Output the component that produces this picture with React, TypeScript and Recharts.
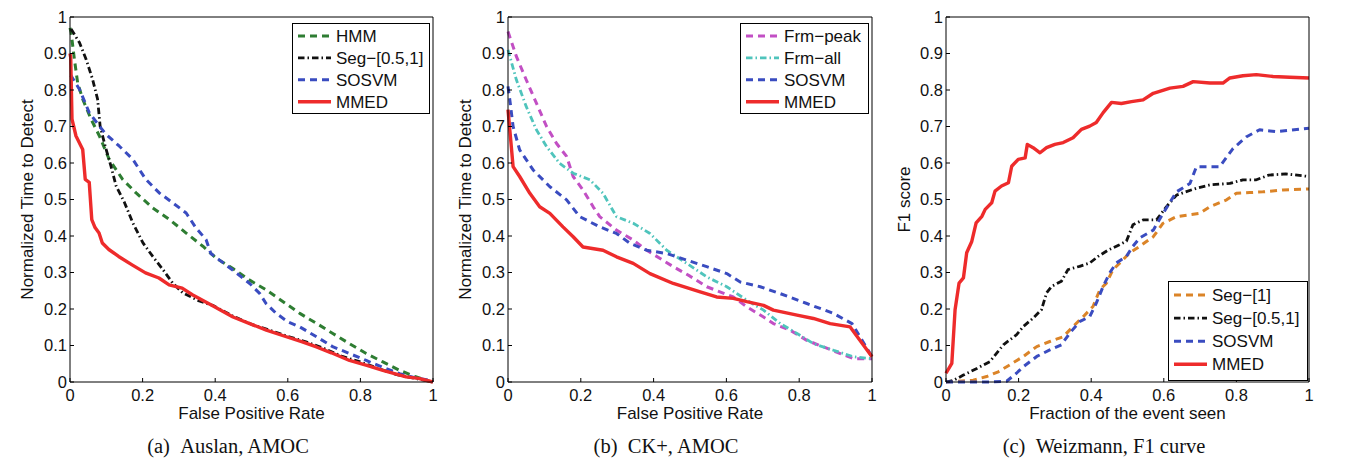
import { Legend, Line, LineChart, XAxis, YAxis } from "recharts";

type Pt = [number, number];

const xTicks = [0, 0.2, 0.4, 0.6, 0.8, 1];
const yTicks = [0, 0.1, 0.2, 0.3, 0.4, 0.5, 0.6, 0.7, 0.8, 0.9, 1];

// (a) Auslan, AMOC
const auslanHmm: Pt[] = [
  [0, 0.97], [0.003, 0.958], [0.012, 0.885], [0.021, 0.82], [0.035, 0.775],
  [0.058, 0.72], [0.081, 0.674], [0.108, 0.61], [0.145, 0.555], [0.182, 0.518],
  [0.228, 0.477], [0.274, 0.445], [0.32, 0.408], [0.366, 0.372], [0.403, 0.339],
  [0.45, 0.31], [0.495, 0.279], [0.541, 0.252], [0.587, 0.22], [0.633, 0.188],
  [0.68, 0.16], [0.724, 0.133], [0.77, 0.105], [0.816, 0.078], [0.862, 0.055],
  [0.908, 0.032], [0.95, 0.015], [0.99, 0.002], [1, 0],
];
const auslanSeg: Pt[] = [
  [0.003, 0.967], [0.026, 0.93], [0.044, 0.885], [0.062, 0.83], [0.076, 0.775],
  [0.083, 0.701], [0.097, 0.646], [0.113, 0.591], [0.127, 0.537], [0.15, 0.492],
  [0.173, 0.436], [0.201, 0.381], [0.228, 0.344], [0.256, 0.308], [0.283, 0.271],
  [0.311, 0.244], [0.356, 0.222], [0.393, 0.21], [0.45, 0.18], [0.5, 0.158],
  [0.55, 0.142], [0.6, 0.125], [0.65, 0.11], [0.7, 0.092], [0.75, 0.07],
  [0.8, 0.055], [0.85, 0.037], [0.9, 0.02], [0.95, 0.01], [1, 0],
];
const auslanSosvm: Pt[] = [
  [0, 0.84], [0.003, 0.839], [0.026, 0.802], [0.053, 0.738], [0.081, 0.701],
  [0.099, 0.679], [0.136, 0.646], [0.173, 0.61], [0.209, 0.555], [0.246, 0.518],
  [0.283, 0.491], [0.32, 0.463], [0.347, 0.422], [0.375, 0.39], [0.388, 0.352],
  [0.412, 0.334], [0.449, 0.306], [0.495, 0.27], [0.523, 0.242], [0.54, 0.215],
  [0.568, 0.188], [0.6, 0.165], [0.633, 0.151], [0.679, 0.124], [0.725, 0.096],
  [0.77, 0.078], [0.816, 0.059], [0.862, 0.04], [0.908, 0.023], [0.95, 0.012],
  [0.99, 0.005], [1, 0],
];
const auslanMmed: Pt[] = [
  [0, 0.9], [0.002, 0.889], [0.0055, 0.72], [0.0165, 0.674], [0.035, 0.637],
  [0.042, 0.555], [0.053, 0.547], [0.06, 0.445], [0.069, 0.423], [0.08, 0.408],
  [0.089, 0.381], [0.107, 0.363], [0.134, 0.344], [0.171, 0.321], [0.208, 0.299],
  [0.245, 0.285], [0.273, 0.266], [0.309, 0.257], [0.337, 0.239], [0.393, 0.209],
  [0.449, 0.178], [0.495, 0.16], [0.541, 0.142], [0.596, 0.124], [0.64, 0.11],
  [0.679, 0.096], [0.72, 0.08], [0.77, 0.059], [0.82, 0.045], [0.862, 0.032],
  [0.926, 0.014], [0.96, 0.01], [1, 0],
];

// (b) CK+, AMOC
const ckPeak: Pt[] = [
  [0, 0.96], [0.023, 0.892], [0.05, 0.828], [0.078, 0.764], [0.106, 0.7],
  [0.133, 0.654], [0.161, 0.618], [0.179, 0.563], [0.206, 0.526], [0.234, 0.48],
  [0.252, 0.453], [0.298, 0.416], [0.344, 0.389], [0.381, 0.361], [0.454, 0.316],
  [0.5, 0.29], [0.546, 0.261], [0.619, 0.233], [0.656, 0.206], [0.702, 0.178],
  [0.729, 0.16], [0.775, 0.142], [0.821, 0.114], [0.867, 0.096], [0.913, 0.078],
  [0.95, 0.064], [1, 0.064],
];
const ckAll: Pt[] = [
  [0, 0.91], [0.023, 0.828], [0.05, 0.755], [0.078, 0.691], [0.106, 0.645],
  [0.142, 0.599], [0.179, 0.572], [0.225, 0.554], [0.261, 0.517], [0.298, 0.453],
  [0.344, 0.435], [0.39, 0.407], [0.436, 0.361], [0.491, 0.325], [0.546, 0.288],
  [0.601, 0.261], [0.656, 0.224], [0.702, 0.197], [0.748, 0.16], [0.794, 0.133],
  [0.839, 0.105], [0.894, 0.087], [0.95, 0.069], [1, 0.064],
];
const ckSosvm: Pt[] = [
  [0, 0.81], [0.005, 0.773], [0.014, 0.7], [0.032, 0.636], [0.069, 0.581],
  [0.115, 0.535], [0.161, 0.499], [0.197, 0.453], [0.252, 0.425], [0.298, 0.407],
  [0.335, 0.38], [0.381, 0.361], [0.436, 0.352], [0.491, 0.334], [0.546, 0.316],
  [0.601, 0.297], [0.638, 0.274], [0.693, 0.261], [0.748, 0.242], [0.821, 0.215],
  [0.894, 0.188], [0.945, 0.16], [1, 0.069],
];
const ckMmed: Pt[] = [
  [0, 0.746], [0.014, 0.59], [0.032, 0.563], [0.06, 0.517], [0.087, 0.48],
  [0.115, 0.462], [0.151, 0.425], [0.179, 0.398], [0.206, 0.37], [0.261, 0.361],
  [0.298, 0.343], [0.344, 0.325], [0.39, 0.297], [0.454, 0.27], [0.528, 0.247],
  [0.573, 0.233], [0.619, 0.229], [0.656, 0.22], [0.702, 0.21], [0.729, 0.197],
  [0.794, 0.183], [0.839, 0.174], [0.885, 0.16], [0.94, 0.151], [1, 0.069],
];

// (c) Weizmann, F1 curve
const weizSeg1: Pt[] = [
  [0, 0], [0.075, 0.005], [0.112, 0.015], [0.144, 0.028], [0.176, 0.047],
  [0.213, 0.07], [0.25, 0.097], [0.286, 0.111], [0.323, 0.124], [0.35, 0.152],
  [0.378, 0.179], [0.405, 0.207], [0.424, 0.253], [0.442, 0.271], [0.46, 0.308],
  [0.483, 0.33], [0.506, 0.354], [0.534, 0.372], [0.571, 0.398], [0.598, 0.435],
  [0.635, 0.453], [0.699, 0.462], [0.727, 0.48], [0.773, 0.499], [0.8, 0.517],
  [0.837, 0.519], [0.873, 0.521], [0.928, 0.526], [1, 0.529],
];
const weizSeg: Pt[] = [
  [0, 0], [0.02, 0.004], [0.048, 0.019], [0.085, 0.037], [0.121, 0.056],
  [0.158, 0.102], [0.194, 0.129], [0.213, 0.152], [0.24, 0.175], [0.263, 0.198],
  [0.277, 0.244], [0.291, 0.262], [0.318, 0.276], [0.336, 0.308], [0.368, 0.317],
  [0.396, 0.326], [0.419, 0.344], [0.446, 0.361], [0.478, 0.376], [0.497, 0.386],
  [0.515, 0.431], [0.543, 0.444], [0.58, 0.444], [0.607, 0.48], [0.635, 0.512],
  [0.69, 0.531], [0.727, 0.54], [0.782, 0.544], [0.818, 0.554], [0.855, 0.554],
  [0.89, 0.567], [0.936, 0.57], [1, 0.563],
];
const weizSosvm: Pt[] = [
  [0, 0], [0.121, 0], [0.167, 0.002], [0.194, 0.024], [0.213, 0.042],
  [0.25, 0.07], [0.286, 0.088], [0.318, 0.102], [0.341, 0.134], [0.369, 0.166],
  [0.396, 0.179], [0.414, 0.216], [0.433, 0.262], [0.451, 0.299], [0.469, 0.326],
  [0.497, 0.344], [0.515, 0.372], [0.534, 0.395], [0.571, 0.416], [0.598, 0.462],
  [0.635, 0.521], [0.672, 0.544], [0.69, 0.59], [0.754, 0.59], [0.791, 0.64],
  [0.828, 0.672], [0.864, 0.691], [0.91, 0.686], [1, 0.695],
];
const weizMmed: Pt[] = [
  [0, 0.024], [0.016, 0.051], [0.025, 0.198], [0.036, 0.271], [0.048, 0.285],
  [0.057, 0.354], [0.071, 0.385], [0.083, 0.436], [0.099, 0.454], [0.108, 0.473],
  [0.126, 0.491], [0.135, 0.523], [0.153, 0.537], [0.172, 0.546], [0.181, 0.591],
  [0.199, 0.61], [0.218, 0.614], [0.224, 0.651], [0.24, 0.642], [0.259, 0.628],
  [0.277, 0.642], [0.3, 0.651], [0.323, 0.656], [0.35, 0.669], [0.373, 0.692],
  [0.396, 0.701], [0.414, 0.711], [0.433, 0.738], [0.456, 0.766], [0.483, 0.763],
  [0.511, 0.768], [0.543, 0.773], [0.571, 0.791], [0.617, 0.805], [0.653, 0.81],
  [0.681, 0.823], [0.727, 0.819], [0.763, 0.819], [0.782, 0.833], [0.818, 0.839],
  [0.855, 0.842], [0.901, 0.837], [0.947, 0.835], [1, 0.833],
];

const SANS = '"Liberation Sans", Arial, Helvetica, sans-serif';
const SERIF = '"Liberation Serif", "Times New Roman", serif';

const DASH = "7 5";
const DASHDOT = "6.5 3 1.5 3";

type Series = {
  key: string;
  name: string;
  color: string;
  dash?: string;
  width: number;
  points: Pt[];
};

type LegendBox = {
  left: number;
  top: number;
  w: number;
  h: number;
  row0: number;
  rowGap: number;
};

type PanelProps = {
  left: number;
  yAxisWidth: number;
  marginRight: number;
  yLabel: string;
  yLabelOffset: number;
  xLabel: string;
  series: Series[];
  legend: LegendBox;
};

const toRows = (pts: Pt[]) => pts.map(([x, y]) => ({ x, y }));

function BoxLegend({ series, box }: { series: Series[]; box: LegendBox }) {
  return (
    <svg width={box.w} height={box.h} style={{ display: "block" }}>
      <rect x={0.5} y={0.5} width={box.w - 1} height={box.h - 1} fill="#fff" stroke="#000" />
      {series.map((s, i) => {
        const y = box.row0 + i * box.rowGap;
        return (
          <g key={s.key}>
            <line
              x1={6}
              x2={39}
              y1={y}
              y2={y}
              stroke={s.color}
              strokeWidth={s.width}
              strokeDasharray={s.dash}
            />
            <text x={44} y={y + 6} fontFamily={SANS} fontSize={17} fill="#111">
              {s.name}
            </text>
          </g>
        );
      })}
    </svg>
  );
}

function Panel(p: PanelProps) {
  const tickStyle = { fill: "#111", fontSize: 16.5, fontFamily: SANS };
  return (
    <div style={{ position: "absolute", left: p.left, top: 0 }}>
      <LineChart
        width={445}
        height={440}
        margin={{ top: 16, right: p.marginRight, bottom: 8, left: 0 }}
      >
        <XAxis
          dataKey="x"
          type="number"
          domain={[0, 1]}
          ticks={xTicks}
          interval={0}
          height={50}
          tickSize={-4}
          tickMargin={11}
          tick={tickStyle}
          axisLine={{ stroke: "#000" }}
          tickLine={{ stroke: "#000" }}
          tickFormatter={(v: number) => String(v)}
          label={{
            value: p.xLabel,
            position: "insideBottom",
            offset: 13,
            style: { fontSize: 17, fontFamily: SANS, fill: "#111" },
          }}
        />
        <XAxis
          xAxisId="top"
          orientation="top"
          dataKey="x"
          type="number"
          domain={[0, 1]}
          ticks={xTicks}
          interval={0}
          height={1}
          tickSize={-4}
          tick={false}
          axisLine={{ stroke: "#000" }}
          tickLine={{ stroke: "#000" }}
        />
        <YAxis
          type="number"
          domain={[0, 1]}
          ticks={yTicks}
          interval={0}
          width={p.yAxisWidth}
          tickSize={-4}
          tickMargin={7}
          tick={tickStyle}
          axisLine={{ stroke: "#000" }}
          tickLine={{ stroke: "#000" }}
          tickFormatter={(v: number) => String(v)}
          label={{
            value: p.yLabel,
            angle: -90,
            position: "insideLeft",
            offset: p.yLabelOffset,
            style: { fontSize: 17, fontFamily: SANS, fill: "#111", textAnchor: "middle" },
          }}
        />
        <YAxis
          yAxisId="right"
          orientation="right"
          type="number"
          domain={[0, 1]}
          ticks={yTicks}
          interval={0}
          width={1}
          tickSize={-4}
          tick={false}
          axisLine={{ stroke: "#000" }}
          tickLine={{ stroke: "#000" }}
        />
        {p.series.map((s) => (
          <Line
            key={s.key}
            data={toRows(s.points)}
            dataKey="y"
            name={s.name}
            type="linear"
            stroke={s.color}
            strokeWidth={s.width}
            strokeDasharray={s.dash}
            strokeLinejoin="round"
            dot={false}
            activeDot={false}
            isAnimationActive={false}
          />
        ))}
        <Legend
          layout="vertical"
          align="center"
          verticalAlign="middle"
          wrapperStyle={{
            left: p.legend.left,
            top: p.legend.top,
            width: p.legend.w,
            height: p.legend.h,
          }}
          content={() => <BoxLegend series={p.series} box={p.legend} />}
        />
      </LineChart>
    </div>
  );
}

const RED = "#EE2B2B";
const BLUE = "#3A4CC0";
const BLACK = "#111111";

const auslanSeries: Series[] = [
  { key: "hmm", name: "HMM", color: "#2E7D32", dash: DASH, width: 3, points: auslanHmm },
  { key: "seg", name: "Seg\u2212[0.5,1]", color: BLACK, dash: DASHDOT, width: 2.8, points: auslanSeg },
  { key: "sosvm", name: "SOSVM", color: BLUE, dash: DASH, width: 3, points: auslanSosvm },
  { key: "mmed", name: "MMED", color: RED, width: 3.4, points: auslanMmed },
];
const ckSeries: Series[] = [
  { key: "peak", name: "Frm\u2212peak", color: "#C24FC4", dash: DASH, width: 3, points: ckPeak },
  { key: "all", name: "Frm\u2212all", color: "#4FC4BC", dash: DASHDOT, width: 2.8, points: ckAll },
  { key: "sosvm", name: "SOSVM", color: BLUE, dash: DASH, width: 3, points: ckSosvm },
  { key: "mmed", name: "MMED", color: RED, width: 3.4, points: ckMmed },
];
const weizSeries: Series[] = [
  { key: "seg1", name: "Seg\u2212[1]", color: "#DB8428", dash: DASH, width: 3, points: weizSeg1 },
  { key: "seg", name: "Seg\u2212[0.5,1]", color: BLACK, dash: DASHDOT, width: 2.8, points: weizSeg },
  { key: "sosvm", name: "SOSVM", color: BLUE, dash: DASH, width: 3, points: weizSosvm },
  { key: "mmed", name: "MMED", color: RED, width: 3.4, points: weizMmed },
];

const captions = [
  { text: "(a)\u00a0\u00a0Auslan, AMOC", cx: 228 },
  { text: "(b)\u00a0\u00a0CK+, AMOC", cx: 666 },
  { text: "(c)\u00a0\u00a0Weizmann, F1 curve", cx: 1104 },
];

export default function App() {
  return (
    <div
      style={{
        position: "absolute",
        left: 0,
        top: 0,
        width: 1346,
        height: 463,
        background: "#fff",
        overflow: "hidden",
      }}
    >
      <Panel
        left={0}
        yAxisWidth={70}
        marginRight={11}
        yLabel="Normalized Time to Detect"
        yLabelOffset={27}
        xLabel="False Positive Rate"
        series={auslanSeries}
        legend={{ left: 292, top: 23, w: 138, h: 91, row0: 13, rowGap: 21.9 }}
      />
      <Panel
        left={440}
        yAxisWidth={68}
        marginRight={12}
        yLabel="Normalized Time to Detect"
        yLabelOffset={25}
        xLabel="False Positive Rate"
        series={ckSeries}
        legend={{ left: 300, top: 23, w: 129, h: 91, row0: 13, rowGap: 21.9 }}
      />
      <Panel
        left={880}
        yAxisWidth={66}
        marginRight={15}
        yLabel="F1 score"
        yLabelOffset={24}
        xLabel="Fraction of the event seen"
        series={weizSeries}
        legend={{ left: 288, top: 281, w: 140, h: 100, row0: 14, rowGap: 23.1 }}
      />
      {captions.map((c) => (
        <div
          key={c.text}
          style={{
            position: "absolute",
            left: c.cx - 150,
            width: 300,
            top: 436,
            textAlign: "center",
            fontFamily: SERIF,
            fontSize: 20.5,
            lineHeight: "20.5px",
            color: "#111",
            whiteSpace: "nowrap",
          }}
        >
          {c.text}
        </div>
      ))}
    </div>
  );
}
